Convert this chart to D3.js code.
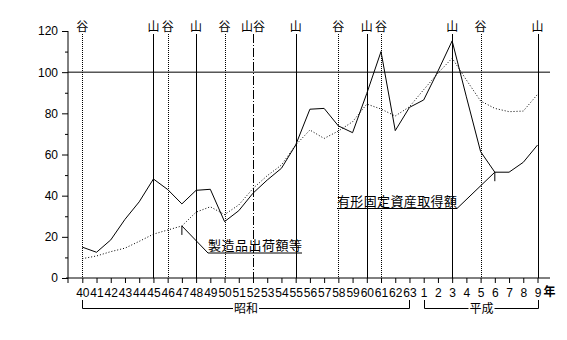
<!DOCTYPE html>
<html>
<head>
<meta charset="utf-8">
<script src="https://cdn.jsdelivr.net/npm/d3@7"></script>
<style>
  body { margin: 0; background: #fff; }
  svg { display: block; }
  text { fill: #000; }
</style>
</head>
<body>
<div id="chart"></div>
<script>
var years = ['40','41','42','43','44','45','46','47','48','49','50','51','52','53','54','55','56','57','58','59','60','61','62','63','1','2','3','4','5','6','7','8','9'];
var investment = [15,12.5,18.5,28.5,37,48.1,43,36,42.6,43.1,27.4,32.7,41.2,47.6,53.3,64.6,82,82.4,73.9,70.6,89.7,110,71.6,82.9,86.5,100.5,115.2,88,61.4,51.4,51.4,56.2,64.6];
var shipments = [9.4,10.7,12.8,14.5,17.8,21.3,23.3,25.3,32,34.6,30.8,35.5,43.5,49.7,54.9,64.6,71.9,67.8,71.4,75.9,84.5,82.1,78.7,83.2,91.5,99.5,106.8,96.2,86,82.4,80.8,81.1,89.2];
var turnAt = ['40','45','46','48','50','52','55','58','60','61','3','5','9'];
var turnLabels = ['谷','山','谷','山','谷','山谷','山','谷','山','谷','山','谷','山'];
var yTicks = [0,20,40,60,80,100,120];
var eras = [['昭和','40','63'], ['平成','1','9']];

var jp = "'Noto Sans CJK JP', sans-serif";
var num = "'Liberation Sans', Arial, sans-serif";

var svg = d3.select("#chart").append("svg")
  .attr("width", 567)
  .attr("height", 340);

var x = d3.scalePoint().domain(years).range([82.3, 537.5]);
var y = d3.scaleLinear().domain([0, 120]).range([278, 31]);

var left = 68, right = 550;

// y axis
var yAxis = svg.append("g")
  .attr("transform", "translate(" + left + ",0)")
  .call(d3.axisLeft(y).tickValues(yTicks).tickSize(6).tickSizeOuter(0));
yAxis.select(".domain").remove();
yAxis.selectAll("text").attr("font-family", num).attr("font-size", 12).attr("dx", "-1");
svg.append("g")
  .attr("transform", "translate(" + left + ",0)")
  .call(d3.axisLeft(y).tickValues(d3.range(10, 120, 20)).tickSize(3).tickFormat(""))
  .select(".domain").remove();
svg.append("line")
  .attr("x1", left).attr("x2", left)
  .attr("y1", y(120)).attr("y2", y(0) + 5)
  .attr("stroke", "#000");

// x axis
var xAxis = svg.append("g")
  .attr("transform", "translate(0," + y(0) + ")")
  .call(d3.axisBottom(x).tickSize(5).tickSizeOuter(0));
xAxis.select(".domain").remove();
xAxis.selectAll("text").attr("font-family", num).attr("font-size", 12).attr("dy", "0.9em");
svg.append("line")
  .attr("x1", left - 2).attr("x2", right)
  .attr("y1", y(0)).attr("y2", y(0))
  .attr("stroke", "#000");
svg.append("text")
  .attr("x", x('9') + 6).attr("y", y(0) + 18)
  .attr("font-family", jp).attr("font-size", 12).attr("font-weight", "bold")
  .text("年");

// 100 line
svg.append("line")
  .attr("x1", left).attr("x2", right)
  .attr("y1", y(100)).attr("y2", y(100))
  .attr("stroke", "#000");

// peaks and troughs
var turns = svg.append("g").selectAll("g")
  .data(turnAt.map(function (d, i) { return { year: d, label: turnLabels[i] }; }))
  .enter().append("g");
turns.append("line")
  .attr("x1", function (d) { return Math.round(x(d.year)) + 0.5; })
  .attr("x2", function (d) { return Math.round(x(d.year)) + 0.5; })
  .attr("y1", 34).attr("y2", y(0))
  .attr("stroke", "#000")
  .attr("stroke-dasharray", function (d) {
    if (d.label == '谷') return "1,1";
    if (d.label == '山谷') return "9,2,1,2";
    return null;
  });
turns.append("text")
  .attr("x", function (d) { return x(d.year); })
  .attr("y", 31)
  .attr("text-anchor", "middle")
  .attr("font-family", jp).attr("font-size", 12)
  .text(function (d) { return d.label; });

// series
var line = d3.line()
  .x(function (d, i) { return x(years[i]); })
  .y(function (d) { return y(d); });

svg.append("path")
  .attr("d", line(shipments))
  .attr("fill", "none")
  .attr("stroke", "#000")
  .attr("stroke-dasharray", "1,2");

svg.append("path")
  .attr("d", line(investment))
  .attr("fill", "none")
  .attr("stroke", "#000");

// labels with leader lines
function label(text, year, value, tx, ty, tw) {
  var px = x(year), py = y(value);
  svg.append("line")
    .attr("x1", px).attr("x2", px).attr("y1", py).attr("y2", py + 9)
    .attr("stroke", "#000");
  var ex = tx < px ? tx + tw : tx;
  svg.append("polyline")
    .attr("points", [[px, py], [ex, ty + 3], [ex == tx ? tx + tw : tx, ty + 3]].join(" "))
    .attr("fill", "none").attr("stroke", "#000");
  svg.append("text")
    .attr("x", tx).attr("y", ty)
    .attr("font-family", jp).attr("font-size", 13)
    .attr("textLength", tw).attr("lengthAdjust", "spacing")
    .text(text);
}
label("製造品出荷額等", '47', shipments[7], 208, 250, 94);
label("有形固定資産取得額", '6', investment[29], 337, 205.5, 120);

// era brackets
eras.forEach(function (e) {
  var x0 = Math.round(x(e[1])) + 0.5, x1 = Math.round(x(e[2])) + 0.5;
  svg.append("path")
    .attr("d", "M" + x0 + ",300V308.5H" + x1 + "V300")
    .attr("fill", "none").attr("stroke", "#000");
  var bg = svg.append("rect").attr("fill", "#fff");
  var t = svg.append("text")
    .attr("x", (x0 + x1) / 2).attr("y", 313)
    .attr("text-anchor", "middle")
    .attr("font-family", jp).attr("font-size", 12)
    .text(e[0]);
  var b = t.node().getBBox();
  bg.attr("x", b.x - 1).attr("y", b.y + 2).attr("width", b.width + 2).attr("height", b.height - 4);
});
</script>
</body>
</html>
